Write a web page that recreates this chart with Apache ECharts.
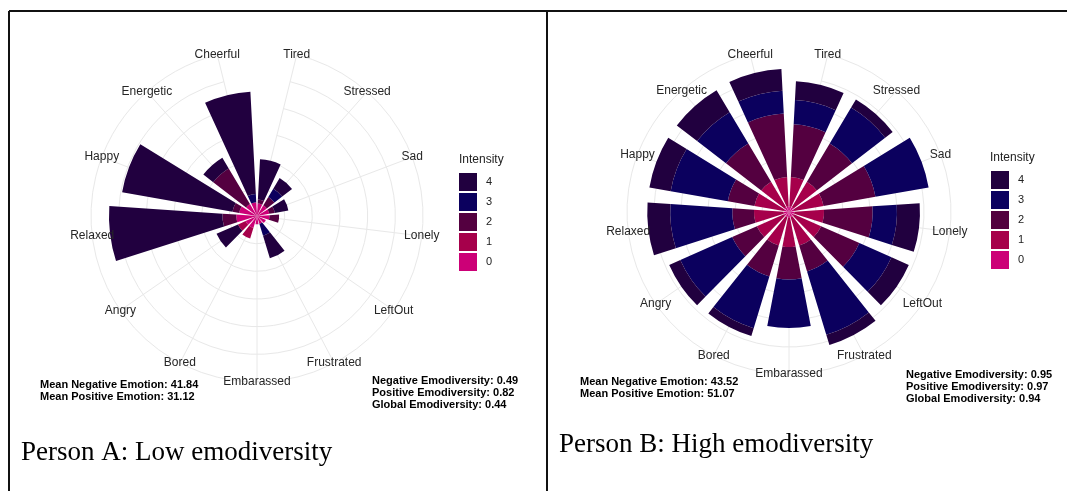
<!DOCTYPE html>
<html>
<head>
<meta charset="utf-8">
<script src="https://cdn.jsdelivr.net/npm/echarts@6/dist/echarts.min.js"></script>
<style>
  html, body { margin: 0; padding: 0; background: #fff; }
  #chart { width: 1067px; height: 491px; }
</style>
</head>
<body>
<div id="chart"></div>
<script>
// Emotion categories, clockwise starting just right of the top
const categories = ['Tired', 'Stressed', 'Sad', 'Lonely', 'LeftOut', 'Frustrated', 'Embarassed',
                    'Bored', 'Angry', 'Relaxed', 'Happy', 'Energetic', 'Cheerful'];

// Intensity levels (stacked from the centre outwards) and their fills
const intensityLevels = ['0', '1', '2', '3', '4'];
const intensityColors = ['#cc0077', '#a6004b', '#540040', '#0b005e', '#21003f'];
const legendOrder = ['4', '3', '2', '1', '0'];

// Person A: amount per intensity level for each emotion
const personA0 = [4.5, 4.5, 4.5, 4.5, 3.5, 3, 3, 4.5, 4.5, 7.5, 6.5, 5, 5];
const personA1 = [0, 0, 0, 0, 0, 0, 0, 4, 3, 0, 0, 0, 0];
const personA2 = [1.5, 3.5, 2, 3.5, 0, 0, 0, 0, 0, 5, 2.5, 15, 0];
const personA3 = [0, 3.5, 0, 0, 0, 4.5, 0, 0, 0, 0, 0, 0, 3];
const personA4 = [14.5, 4.5, 5, 0, 0, 8.5, 0, 0, 8.5, 41, 40.5, 4.5, 37];

// Person B: amount per intensity level for each emotion
const personB0 = [2, 2, 2, 2, 2, 2, 2, 2, 2, 2, 2, 2, 2];
const personB1 = [11, 11, 11, 11, 11, 11, 11, 11, 11, 11, 11, 11, 11];
const personB2 = [19.5, 16.5, 19.5, 18, 15.5, 10, 12, 12, 10, 8, 10, 16.5, 23.5];
const personB3 = [9, 15.5, 20, 9, 13, 24.5, 18, 20, 21, 23, 21.5, 13.5, 8.5];
const personB4 = [7, 3.5, 0, 8.5, 7, 4, 0, 3, 4.5, 8.5, 8, 9.5, 8];

// Summary statistics printed under each rose
const statsA = {
  means: ['Mean Negative Emotion: 41.84', 'Mean Positive Emotion: 31.12'],
  diversity: ['Negative Emodiversity: 0.49', 'Positive Emodiversity: 0.82', 'Global Emodiversity: 0.44']
};
const statsB = {
  means: ['Mean Negative Emotion: 43.52', 'Mean Positive Emotion: 51.07'],
  diversity: ['Negative Emodiversity: 0.95', 'Positive Emodiversity: 0.97', 'Global Emodiversity: 0.94']
};
const captionA = 'Person A: Low emodiversity';
const captionB = 'Person B: High emodiversity';

const radialMax = 60;
const bandDeg = 360 / categories.length;
const sans = '"Liberation Sans", Arial, sans-serif';
const serif = '"Liberation Serif", "Times New Roman", serif';

const chart = echarts.init(document.getElementById('chart'), null, { renderer: 'canvas' });

function angleAxisFor(idx) {
  return {
    polarIndex: idx,
    type: 'category',
    data: categories,
    boundaryGap: false,
    startAngle: 90 - bandDeg / 2,
    clockwise: true,
    axisLine: { show: false },
    axisTick: { show: false },
    axisLabel: { show: false },
    splitLine: { show: true, lineStyle: { color: '#e8e8e8', width: 1 } }
  };
}

function radiusAxisFor(idx) {
  return {
    polarIndex: idx,
    type: 'value',
    min: 0,
    max: radialMax,
    interval: 10,
    axisLine: { show: false },
    axisTick: { show: false },
    axisLabel: { show: false },
    splitLine: { show: true, lineStyle: { color: '#e8e8e8', width: 1 } }
  };
}

function stackSeries(levels, polarIndex, stackName) {
  return levels.map((values, i) => ({
    name: intensityLevels[i],
    type: 'bar',
    coordinateSystem: 'polar',
    polarIndex: polarIndex,
    stack: stackName,
    barWidth: '78%',
    data: values,
    itemStyle: { color: intensityColors[i] },
    emphasis: { disabled: true },
    silent: true
  }));
}

// Emotion names centred on the outer ring
function ringLabels(polarIndex) {
  return {
    name: 'ring-labels-' + polarIndex,
    type: 'scatter',
    coordinateSystem: 'polar',
    polarIndex: polarIndex,
    symbol: 'circle',
    symbolSize: 2,
    itemStyle: { color: 'rgba(255,255,255,0)' },
    silent: true,
    clip: false,
    z: 5,
    data: categories.map(c => ({ name: c, value: [radialMax, c] })),
    label: {
      show: true,
      position: 'inside',
      formatter: '{b}',
      color: '#262626',
      opacity: 1,
      textBorderWidth: 0,
      fontSize: 12,
      fontFamily: sans
    },
    labelLayout: { hideOverlap: false }
  };
}

function legendFor(left, top) {
  return {
    data: legendOrder,
    orient: 'vertical',
    left: left,
    top: top,
    icon: 'rect',
    itemWidth: 18,
    itemHeight: 18,
    itemGap: 2,
    padding: 0,
    selectedMode: false,
    textStyle: { fontSize: 11, color: '#222', fontFamily: sans, padding: [0, 0, 0, 4] }
  };
}

function textBlock(lines, x, y, opts) {
  return {
    type: 'text',
    left: x,
    top: y,
    style: Object.assign({
      text: lines.join('\n'),
      fill: '#000',
      fontFamily: sans,
      fontSize: 11,
      fontWeight: 'bold',
      lineHeight: 12
    }, opts || {})
  };
}

function frameLine(x1, y1, x2, y2) {
  return {
    type: 'line',
    shape: { x1: x1, y1: y1, x2: x2, y2: y2 },
    style: { stroke: '#111', lineWidth: 2 },
    z: 10
  };
}

const option = {
  backgroundColor: '#fff',
  animation: false,
  polar: [
    { center: [257, 216], radius: 166 },
    { center: [789, 212], radius: 162 }
  ],
  angleAxis: [angleAxisFor(0), angleAxisFor(1)],
  radiusAxis: [radiusAxisFor(0), radiusAxisFor(1)],
  legend: [legendFor(459, 173), legendFor(991, 171)],
  series: [].concat(
    stackSeries([personA0, personA1, personA2, personA3, personA4], 0, 'personA'),
    stackSeries([personB0, personB1, personB2, personB3, personB4], 1, 'personB'),
    [ringLabels(0), ringLabels(1)]
  ),
  graphic: [
    frameLine(9, 11, 1067, 11),
    frameLine(9, 11, 9, 491),
    frameLine(547, 11, 547, 491),
    { type: 'text', left: 459, top: 154, style: { text: 'Intensity', fontSize: 12, fontFamily: sans, fill: '#222' } },
    { type: 'text', left: 990, top: 152, style: { text: 'Intensity', fontSize: 12, fontFamily: sans, fill: '#222' } },
    textBlock(statsA.means, 40, 379),
    textBlock(statsA.diversity, 372, 375),
    textBlock(statsB.means, 580, 376),
    textBlock(statsB.diversity, 906, 369),
    { type: 'text', left: 21, top: 439, style: { text: captionA, fontSize: 27, fontFamily: serif, fill: '#000' } },
    { type: 'text', left: 559, top: 431, style: { text: captionB, fontSize: 27, fontFamily: serif, fill: '#000' } }
  ]
};

chart.setOption(option);
</script>
</body>
</html>
